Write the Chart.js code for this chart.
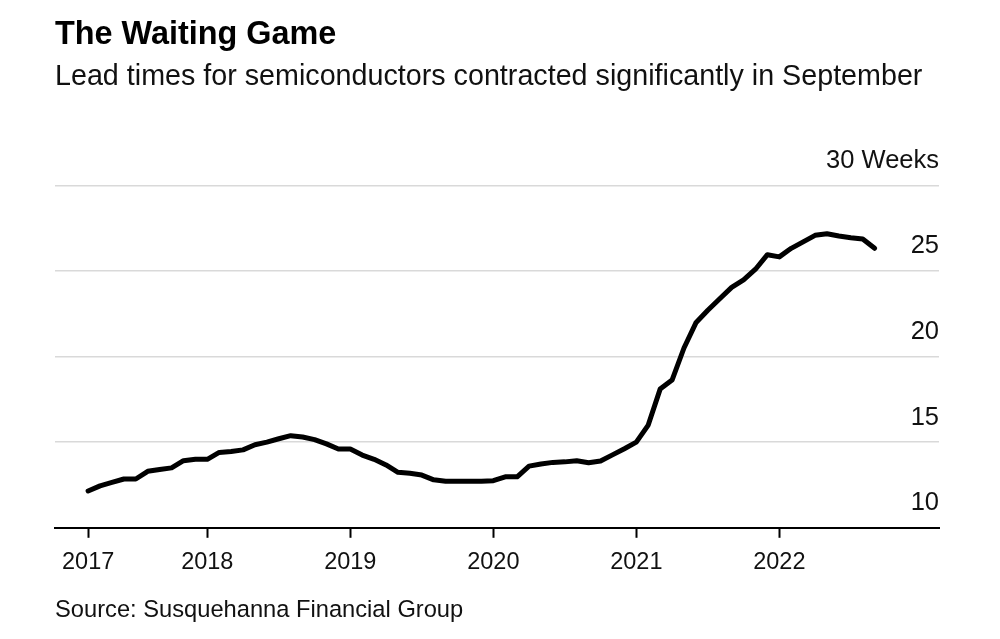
<!DOCTYPE html>
<html>
<head>
<meta charset="utf-8">
<script src="https://cdn.jsdelivr.net/npm/chart.js@4/dist/chart.umd.min.js"></script>
<style>
  html, body { margin: 0; padding: 0; background: #ffffff; }
  #wrap { position: relative; width: 1000px; height: 639px; }
</style>
</head>
<body>
<div id="wrap"><canvas id="c"></canvas></div>
<script>
// ---- Data (monthly, Mar 2017 – Sep 2022), lead time in weeks ----
const months = [
  '2017-03','2017-04','2017-05','2017-06','2017-07','2017-08','2017-09','2017-10','2017-11','2017-12',
  '2018-01','2018-02','2018-03','2018-04','2018-05','2018-06','2018-07','2018-08','2018-09','2018-10','2018-11','2018-12',
  '2019-01','2019-02','2019-03','2019-04','2019-05','2019-06','2019-07','2019-08','2019-09','2019-10','2019-11','2019-12',
  '2020-01','2020-02','2020-03','2020-04','2020-05','2020-06','2020-07','2020-08','2020-09','2020-10','2020-11','2020-12',
  '2021-01','2021-02','2021-03','2021-04','2021-05','2021-06','2021-07','2021-08','2021-09','2021-10','2021-11','2021-12',
  '2022-01','2022-02','2022-03','2022-04','2022-05','2022-06','2022-07','2022-08','2022-09'
];
const leadTimes = [
  12.15, 12.45, 12.65, 12.85, 12.85, 13.3, 13.4, 13.5, 13.92, 14.0,
  14.0, 14.4, 14.45, 14.55, 14.85, 15.0, 15.2, 15.38, 15.3, 15.15, 14.9, 14.6,
  14.6, 14.25, 14.0, 13.67, 13.24, 13.18, 13.08, 12.8, 12.72, 12.72, 12.72, 12.72,
  12.75, 12.98, 12.98, 13.6, 13.73, 13.82, 13.85, 13.92, 13.8, 13.9, 14.26, 14.62,
  15.0, 16.0, 18.1, 18.63, 20.5, 21.97, 22.7, 23.38, 24.04, 24.48, 25.1, 25.95,
  25.82, 26.32, 26.7, 27.08, 27.17, 27.04, 26.94, 26.86, 26.32
];
const xTickMonths = ['2017-03','2018-01','2019-01','2020-01','2021-01','2022-01'];
const xTickLabels = ['2017','2018','2019','2020','2021','2022'];
const yTicks = [10, 15, 20, 25, 30];
const yUnit = 'Weeks';

const titleText = 'The Waiting Game';
const subtitleText = 'Lead times for semiconductors contracted significantly in September';
const sourceText = 'Source: Susquehanna Financial Group';

// month string -> month index counted from Jan 2017
function monthIndex(s) {
  const [y, m] = s.split('-').map(Number);
  return (y - 2017) * 12 + (m - 1);
}
const points = months.map((m, i) => ({ x: monthIndex(m), y: leadTimes[i] }));
const tickIdx = xTickMonths.map(monthIndex);

const FONT = '"Liberation Sans", Arial, Helvetica, sans-serif';

const sourcePlugin = {
  id: 'sourceNote',
  afterDraw(chart) {
    const ctx = chart.ctx;
    ctx.save();
    ctx.font = '23.7px ' + FONT;
    ctx.fillStyle = '#111';
    ctx.textAlign = 'left';
    ctx.textBaseline = 'alphabetic';
    ctx.fillText(sourceText, 55, 617);
    ctx.restore();
  }
};

new Chart(document.getElementById('c'), {
  type: 'line',
  data: {
    datasets: [{
      data: points,
      borderColor: '#000',
      borderWidth: 5,
      borderJoinStyle: 'round',
      borderCapStyle: 'round',
      pointRadius: 0,
      tension: 0,
      fill: false
    }]
  },
  options: {
    responsive: true,
    maintainAspectRatio: false,
    animation: false,
    devicePixelRatio: 1,
    layout: { padding: { left: 55, right: 61, top: 0, bottom: 51 } },
    plugins: {
      legend: { display: false },
      tooltip: { enabled: false },
      title: {
        display: true,
        text: titleText,
        align: 'start',
        color: '#000',
        font: { family: FONT, size: 32.4, weight: 'bold', lineHeight: 1.2 },
        padding: { top: 16, bottom: 5 }
      },
      subtitle: {
        display: true,
        text: subtitleText,
        align: 'start',
        color: '#111',
        font: { family: FONT, size: 28.7, weight: 'normal', lineHeight: 1.2 },
        padding: { top: 0, bottom: 91 }
      }
    },
    scales: {
      x: {
        type: 'linear',
        min: -0.78,
        max: 73.4,
        afterBuildTicks(scale) {
          scale.ticks = tickIdx.map(v => ({ value: v }));
        },
        ticks: {
          autoSkip: false,
          maxRotation: 0,
          padding: 11,
          color: '#111',
          font: { family: FONT, size: 23.5 },
          callback(value) {
            const k = tickIdx.indexOf(value);
            return k >= 0 ? xTickLabels[k] : '';
          }
        },
        grid: {
          drawOnChartArea: false,
          drawTicks: true,
          tickLength: 10,
          tickColor: '#000',
          tickWidth: 2
        },
        border: { display: true, color: '#000', width: 2 }
      },
      y: {
        position: 'right',
        min: yTicks[0],
        max: yTicks[yTicks.length - 1],
        afterBuildTicks(scale) {
          scale.ticks = yTicks.map(v => ({ value: v }));
        },
        ticks: {
          mirror: true,
          padding: 0,
          labelOffset: -24.5,
          color: '#111',
          font: { family: FONT, size: 25.5 },
          callback(value) {
            return value === yTicks[yTicks.length - 1] ? value + ' ' + yUnit : String(value);
          }
        },
        grid: {
          color: '#d9d9d9',
          lineWidth: 1.5,
          drawTicks: false
        },
        border: { display: false }
      }
    }
  },
  plugins: [sourcePlugin]
});
</script>
</body>
</html>
